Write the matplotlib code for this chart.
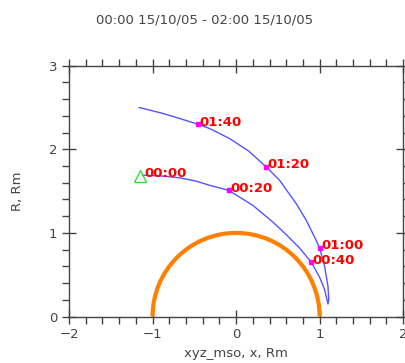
import numpy as np
import matplotlib.pyplot as plt
from matplotlib.patches import Arc
from matplotlib.ticker import MultipleLocator

# orbit track (x, R in Rm), in time order
track_x = [-1.12, -0.88, -0.68, -0.48, -0.32, -0.09, 0.20, 0.44, 0.60, 0.76, 0.90, 1.00, 1.06, 1.10,
           1.11, 1.10, 1.06, 1.00, 0.94, 0.84, 0.72, 0.52, 0.36, 0.15, -0.08, -0.32, -0.46, -0.68, -0.88, -1.16]
track_r = [1.69, 1.68, 1.66, 1.62, 1.57, 1.51, 1.33, 1.13, 0.98, 0.82, 0.65, 0.47, 0.32, 0.15,
           0.20, 0.36, 0.60, 0.82, 0.95, 1.15, 1.35, 1.63, 1.79, 1.98, 2.13, 2.25, 2.30, 2.37, 2.43, 2.50]

# time labels
label_text = ["00:00", "00:20", "00:40", "01:00", "01:20", "01:40"]
label_x = [-1.12, -0.09, 0.90, 1.00, 0.36, -0.46]
label_r = [1.69, 1.51, 0.65, 0.82, 1.79, 2.30]

title = "00:00 15/10/05 - 02:00 15/10/05"
grey = "#444444"

fig = plt.figure(figsize=(4.06, 3.63), dpi=100)
ax = fig.add_axes([0.170, 0.128, 0.823, 0.691])

# planet surface
ax.add_patch(Arc((0, 0), 2, 2, theta1=0, theta2=180, color="#ff8000", lw=3.0, zorder=2))

ax.plot(track_x, track_r, color="#5555ff", lw=1.0, zorder=3)

# start marker
ax.plot(label_x[0] - 0.03, label_r[0] - 0.01, marker="^", ms=8.5, mfc="none", mec="#33dd33", mew=1.0, zorder=4)

# time marks (no dot at start, triangle is there)
ax.plot(label_x[1:], label_r[1:], "s", ms=3, color="#ff00ff", zorder=4)
for t, x, r in zip(label_text, label_x, label_r):
    ax.annotate(t, (x, r), xytext=(1, 1.5), textcoords="offset points", color="#ff0000",
                fontsize=9.5, fontweight="bold", va="center", ha="left", zorder=5)

ax.set_xlim(-2, 2)
ax.set_ylim(0, 3)
ax.xaxis.set_major_locator(MultipleLocator(1))
ax.xaxis.set_minor_locator(MultipleLocator(0.2))
ax.yaxis.set_major_locator(MultipleLocator(1))
ax.yaxis.set_minor_locator(MultipleLocator(0.2))
ax.tick_params(which="major", direction="inout", length=10, width=1.0, color=grey,
               top=True, right=True, labelsize=9.5, labelcolor=grey)
ax.tick_params(which="minor", direction="out", length=5, width=1.0, color=grey, top=True, right=True)
for s in ax.spines.values():
    s.set_color(grey)
    s.set_linewidth(1.0)

ax.set_xlabel("xyz_mso, x, Rm", fontsize=9.5, color=grey, labelpad=4)
ax.set_ylabel("R, Rm", fontsize=9.5, color=grey, labelpad=18)
fig.text(0.505, 0.945, title, ha="center", va="center", fontsize=9.5, color=grey)

plt.savefig("out.png", dpi=100)
